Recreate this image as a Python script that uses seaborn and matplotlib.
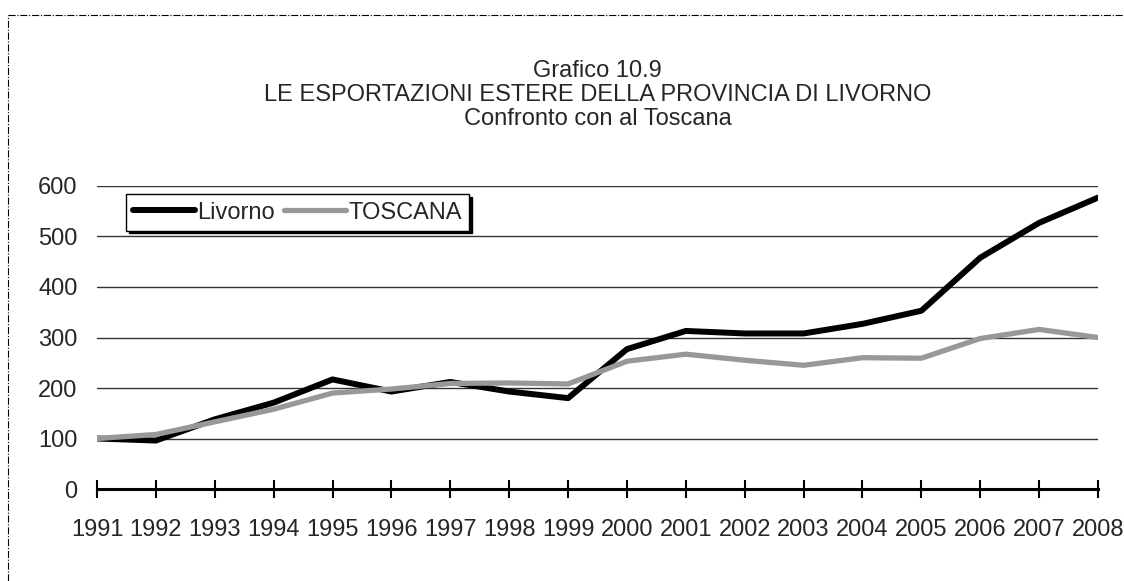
import pandas as pd
import seaborn as sns
import matplotlib.pyplot as plt
from matplotlib.lines import Line2D

# dati (indice 1991 = 100)
anni = list(range(1991, 2009))
livorno = [100, 96, 138, 171, 217, 193, 212, 193, 180, 277, 313, 308, 308, 327, 353, 458, 527, 577]
toscana = [100, 108, 133, 158, 190, 198, 209, 210, 208, 253, 267, 255, 245, 260, 259, 298, 316, 300]

df = pd.DataFrame({"anno": anni, "Livorno": livorno, "TOSCANA": toscana})

sns.set_style("white")
plt.rcParams["font.family"] = ["Liberation Sans", "DejaVu Sans"]
fs = 17

fig = plt.figure(figsize=(11.24, 5.81), dpi=100)
ax = fig.add_axes([0.0863, 0.1583, 0.8906, 0.5216])

sns.lineplot(data=df, x="anno", y="Livorno", color="black", linewidth=4.3,
             label="Livorno", ax=ax, solid_capstyle="round", solid_joinstyle="round")
sns.lineplot(data=df, x="anno", y="TOSCANA", color="#989898", linewidth=3.8,
             label="TOSCANA", ax=ax, solid_capstyle="round", solid_joinstyle="round")

ax.set_xlim(1991, 2008)
ax.set_ylim(0, 600)
ax.set_xticks(anni)
ax.set_xticklabels([str(a) for a in anni])
ax.set_yticks(range(0, 601, 100))
ax.set_xlabel("")
ax.set_ylabel("")

ax.yaxis.grid(True, color="#333333", linewidth=1)
ax.set_axisbelow(True)
for s in ["top", "right", "left"]:
    ax.spines[s].set_visible(False)
ax.spines["bottom"].set_color("black")
ax.spines["bottom"].set_linewidth(2.2)

ax.tick_params(axis="x", direction="inout", length=13.5, width=1.5, color="black",
               labelsize=fs, pad=15, bottom=True)
ax.tick_params(axis="y", length=0, labelsize=fs, pad=14)

leg = ax.legend(loc="upper left", bbox_to_anchor=(0.029, 0.972), ncol=2,
                fontsize=fs, frameon=True, fancybox=False, edgecolor="black",
                handlelength=2.6, handletextpad=0.12, columnspacing=0.4,
                borderpad=0.3, borderaxespad=0,
                shadow={"color": "black", "alpha": 1})
leg.get_frame().set_linewidth(1)

# titolo
cx = 0.0863 + 0.8906 / 2
fig.text(cx, 1 - 71 / 581, "Grafico 10.9", ha="center", va="center", fontsize=fs)
fig.text(cx, 1 - 95 / 581, "LE ESPORTAZIONI ESTERE DELLA PROVINCIA DI LIVORNO",
         ha="center", va="center", fontsize=fs)
fig.text(cx, 1 - 119 / 581, "Confronto con al Toscana", ha="center", va="center", fontsize=fs)

# cornice tratteggiata
fig.add_artist(Line2D([8 / 1124, 1], [1 - 15 / 581, 1 - 15 / 581], color="black",
                      linewidth=0.8, linestyle="-."))
fig.add_artist(Line2D([8 / 1124, 8 / 1124], [0, 1 - 15 / 581], color="black",
                      linewidth=0.8, linestyle="-."))

fig.savefig("out.png", dpi=100)
